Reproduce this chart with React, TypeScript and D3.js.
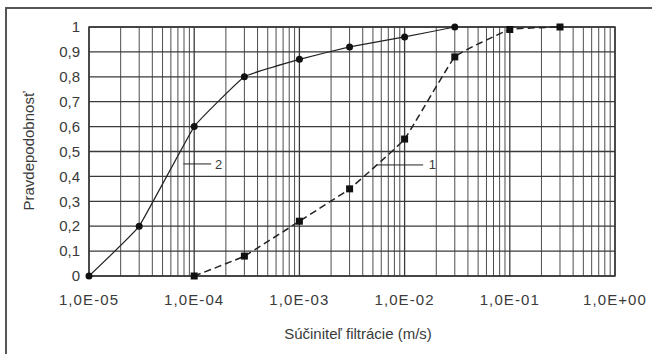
import React from "react";
import * as d3 from "d3";

// Pravdepodobnosť vs. súčiniteľ filtrácie
const kValues1 = [1e-4, 3e-4, 1e-3, 3e-3, 1e-2, 3e-2, 1e-1, 3e-1];
const prob1 = [0, 0.08, 0.22, 0.35, 0.55, 0.88, 0.99, 1.0];
const kValues2 = [1e-5, 3e-5, 1e-4, 3e-4, 1e-3, 3e-3, 1e-2, 3e-2];
const prob2 = [0, 0.2, 0.6, 0.8, 0.87, 0.92, 0.96, 1.0];
const xTickLabels = ["1,0E-05", "1,0E-04", "1,0E-03", "1,0E-02", "1,0E-01", "1,0E+00"];
const yTicks = [0, 0.1, 0.2, 0.3, 0.4, 0.5, 0.6, 0.7, 0.8, 0.9, 1];

const W = 652;
const H = 354;
const m = { left: 89, right: 37, top: 27, bottom: 78 };
const ink = "#3a3a3a";
const font = "'Liberation Sans', Arial, sans-serif";

export default function App() {
  const x = d3.scaleLog().domain([1e-5, 1]).range([m.left, W - m.right]);
  const y = d3.scaleLinear().domain([0, 1]).range([H - m.bottom, m.top]);

  const decades = d3.range(-5, 1).map((e) => Math.pow(10, e));
  const minor: number[] = [];
  decades.slice(0, -1).forEach((d) => {
    for (let k = 2; k <= 9; k++) minor.push(d * k);
  });

  const pts1 = kValues1.map((k, i) => [k, prob1[i]] as [number, number]);
  const pts2 = kValues2.map((k, i) => [k, prob2[i]] as [number, number]);
  const line = d3
    .line<[number, number]>()
    .x((d) => x(d[0]))
    .y((d) => y(d[1]))
    .curve(d3.curveCardinal.tension(0.75));

  const fmtY = (v: number) => (v === 0 || v === 1 ? String(v) : v.toFixed(1).replace(".", ","));

  return (
    <svg
      width={W}
      height={H}
      style={{ position: "absolute", left: 0, top: 0, background: "#fff" }}
      fontFamily={font}
    >
      {/* outer frame */}
      <rect x={6} y={8} width={W} height={H} fill="none" stroke="#555" strokeWidth={2} />

      {/* grid */}
      <g stroke={ink} strokeWidth={1}>
        {minor.map((v, i) => (
          <line key={"mn" + i} x1={x(v)} x2={x(v)} y1={y(0)} y2={y(1)} strokeWidth={0.9} />
        ))}
        {decades.map((v, i) => (
          <line key={"mj" + i} x1={x(v)} x2={x(v)} y1={y(0)} y2={y(1)} strokeWidth={1.3} />
        ))}
        {yTicks.map((v, i) => (
          <line key={"h" + i} x1={x(1e-5)} x2={x(1)} y1={y(v)} y2={y(v)} strokeWidth={1.3} />
        ))}
        <rect x={x(1e-5)} y={y(1)} width={x(1) - x(1e-5)} height={y(0) - y(1)} fill="none" strokeWidth={1.5} />
      </g>

      {/* series 2: solid, circles */}
      <path d={line(pts2) || ""} fill="none" stroke="#222" strokeWidth={1.2} />
      {pts2.map((d, i) => (
        <circle key={"c" + i} cx={x(d[0])} cy={y(d[1])} r={3.5} fill="#111" />
      ))}

      {/* series 1: dashed, squares */}
      <path d={line(pts1) || ""} fill="none" stroke="#222" strokeWidth={1.5} strokeDasharray="7 4" />
      {pts1.map((d, i) => (
        <rect key={"s" + i} x={x(d[0]) - 3.5} y={y(d[1]) - 3.5} width={7} height={7} fill="#111" />
      ))}

      {/* curve labels */}
      <g stroke="#222" strokeWidth={1}>
        <line x1={x(7.9e-5)} x2={x(1.45e-4)} y1={y(0.45)} y2={y(0.45)} />
        <line x1={x(5.5e-3)} x2={x(1.5e-2)} y1={y(0.446)} y2={y(0.446)} />
      </g>
      <text x={x(1.58e-4)} y={y(0.45)} dy="0.35em" fontSize={13} fill={ink}>2</text>
      <text x={x(1.7e-2)} y={y(0.446)} dy="0.35em" fontSize={13} fill={ink}>1</text>

      {/* y axis labels */}
      {yTicks.map((v, i) => (
        <text key={"yl" + i} x={x(1e-5) - 9} y={y(v)} dy="0.35em" textAnchor="end" fontSize={15} fill={ink}>
          {fmtY(v)}
        </text>
      ))}
      {/* x axis labels */}
      {decades.map((v, i) => (
        <text key={"xl" + i} x={x(v)} y={y(0) + 24} dy="0.35em" textAnchor="middle" fontSize={15} letterSpacing={1.1} fill={ink}>
          {xTickLabels[i]}
        </text>
      ))}

      <text x={358} y={334} dy="0.35em" textAnchor="middle" fontSize={15} fill={ink}>
        Súčiniteľ filtrácie (m/s)
      </text>
      <text
        transform={`translate(29, ${151}) rotate(-90)`}
        dy="0.35em"
        textAnchor="middle"
        fontSize={15}
        fill={ink}
      >
        Pravdepodobnosť
      </text>
    </svg>
  );
}
